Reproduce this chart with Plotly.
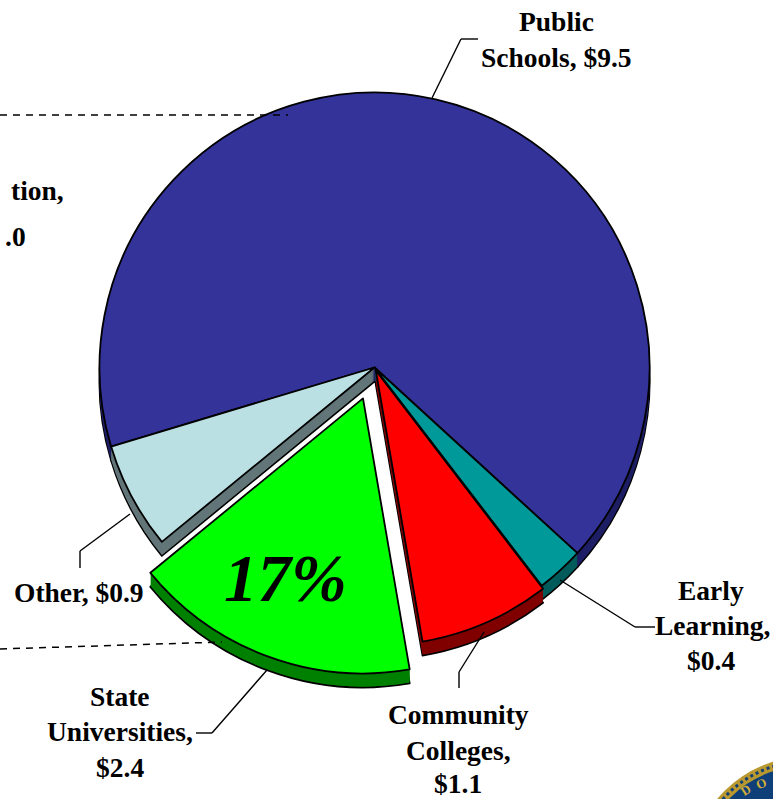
import plotly.graph_objects as go

W, H = 773, 799
categories = ["Public Schools", "Early Learning", "Community Colleges", "State Universities", "Other"]
values = [9.5, 0.4, 1.1, 2.4, 0.9]
pulls = [0, 0, 0.012, 0.12, 0]
top_colors = ["#333399", "#009999", "#ff0000", "#00ff00", "#bbe0e3"]
wall_colors = ["#1f1f66", "#005c5c", "#800000", "#008000", "#637679"]
start_angle = 253.3
depth_px = 14
cx, cy, radius = 374.5, 367.5, 275

label_lines = [
    ("Public", 556, 21), ("Schools, $9.5", 556, 57),
    ("Early", 711, 590), ("Learning,", 712, 625), ("$0.4", 711, 660),
    ("Community", 458, 714), ("Colleges,", 458, 750), ("$1.1", 458, 783),
    ("State", 120, 696), ("Universities,", 120, 731), ("$2.4", 120, 767),
    ("Other, $0.9", 79, 592),
]
clipped_lines = [("tion,", 66, 190), (".0", 28, 237)]
leaders = [
    [(432, 98), (461, 39), (478, 39)],
    [(560, 580), (635, 627), (655, 627)],
    [(484, 632), (459, 672), (459, 688)],
    [(267, 670), (212, 733), (196, 733)],
    [(130, 514), (80, 551), (80, 568)],
]
dashed = [[(0, 115), (288, 115)], [(0, 649), (222, 642)]]
FONT = "Liberation Serif"
LABEL_SIZE = 27.5

half = radius * (1 + max(pulls))
def px(x): return x / W
def py(y): return 1 - y / H

fig = go.Figure()
for d in range(depth_px, -1, -1):
    is_top = d == 0
    edge = is_top or d == depth_px
    fig.add_trace(go.Pie(
        labels=categories, values=values, sort=False, direction="clockwise",
        rotation=start_angle, pull=pulls, textinfo="none", hoverinfo="skip",
        showlegend=False,
        marker=dict(colors=top_colors if is_top else wall_colors,
                    line=dict(color="#000000", width=1.8 if edge else 0)),
        domain=dict(x=[px(cx - half), px(cx + half)],
                    y=[py(cy + d + half), py(cy + d - half)]),
    ))

shapes = []
def seg(pts, dash="solid", width=1.4):
    for (a, b), (c, e) in zip(pts, pts[1:]):
        shapes.append(dict(type="line", xref="paper", yref="paper",
                           x0=px(a), y0=py(b), x1=px(c), y1=py(e),
                           line=dict(color="#000000", width=width, dash=dash)))
for p in leaders:
    seg(p)
for p in dashed:
    seg(p, dash="7px,6px", width=1.5)

def circle(x, y, r, **kw):
    shapes.append(dict(type="circle", xref="paper", yref="paper",
                       x0=px(x - r), x1=px(x + r), y0=py(y + r), y1=py(y - r), **kw))
circle(806, 872, 115, fillcolor="#b9982f", line=dict(width=0))
circle(806, 872, 110.5, fillcolor="rgba(0,0,0,0)", line=dict(color="#123f73", width=3, dash="dot"))
circle(806, 872, 106, fillcolor="#0f3f78", line=dict(width=0))

ann = []
for t, x, y in label_lines:
    ann.append(dict(text=t, x=px(x), y=py(y), xref="paper", yref="paper", showarrow=False,
                    xanchor="center", yanchor="middle",
                    font=dict(family=FONT, size=LABEL_SIZE, color="#000000", weight="bold")))
for t, x, y in clipped_lines:
    ann.append(dict(text=t, x=px(x), y=py(y), xref="paper", yref="paper", showarrow=False,
                    xanchor="right", yanchor="middle",
                    font=dict(family=FONT, size=LABEL_SIZE, color="#000000", weight="bold")))
ann.append(dict(text="<b><i>17%</i></b>", x=px(285), y=py(578), xref="paper", yref="paper",
                xanchor="center", yanchor="middle",
                showarrow=False, font=dict(family=FONT, size=67, color="#000000")))
for t, x, y, rot in [("D", 745, 790, -33), ("O", 761, 783, -22)]:
    ann.append(dict(text=t, x=px(x), y=py(y), xref="paper", yref="paper", showarrow=False,
                    xanchor="center", yanchor="middle", textangle=rot,
                    font=dict(family=FONT, size=13, color="#d4ae3a", weight="bold")))

fig.update_layout(width=W, height=H, margin=dict(l=0, r=0, t=0, b=0), autosize=False,
                  paper_bgcolor="#ffffff", shapes=shapes, annotations=ann)
fig.write_html("out.html", config=dict(displayModeBar=False),
               post_script="document.body.style.margin='0';document.body.style.overflow='hidden';")
